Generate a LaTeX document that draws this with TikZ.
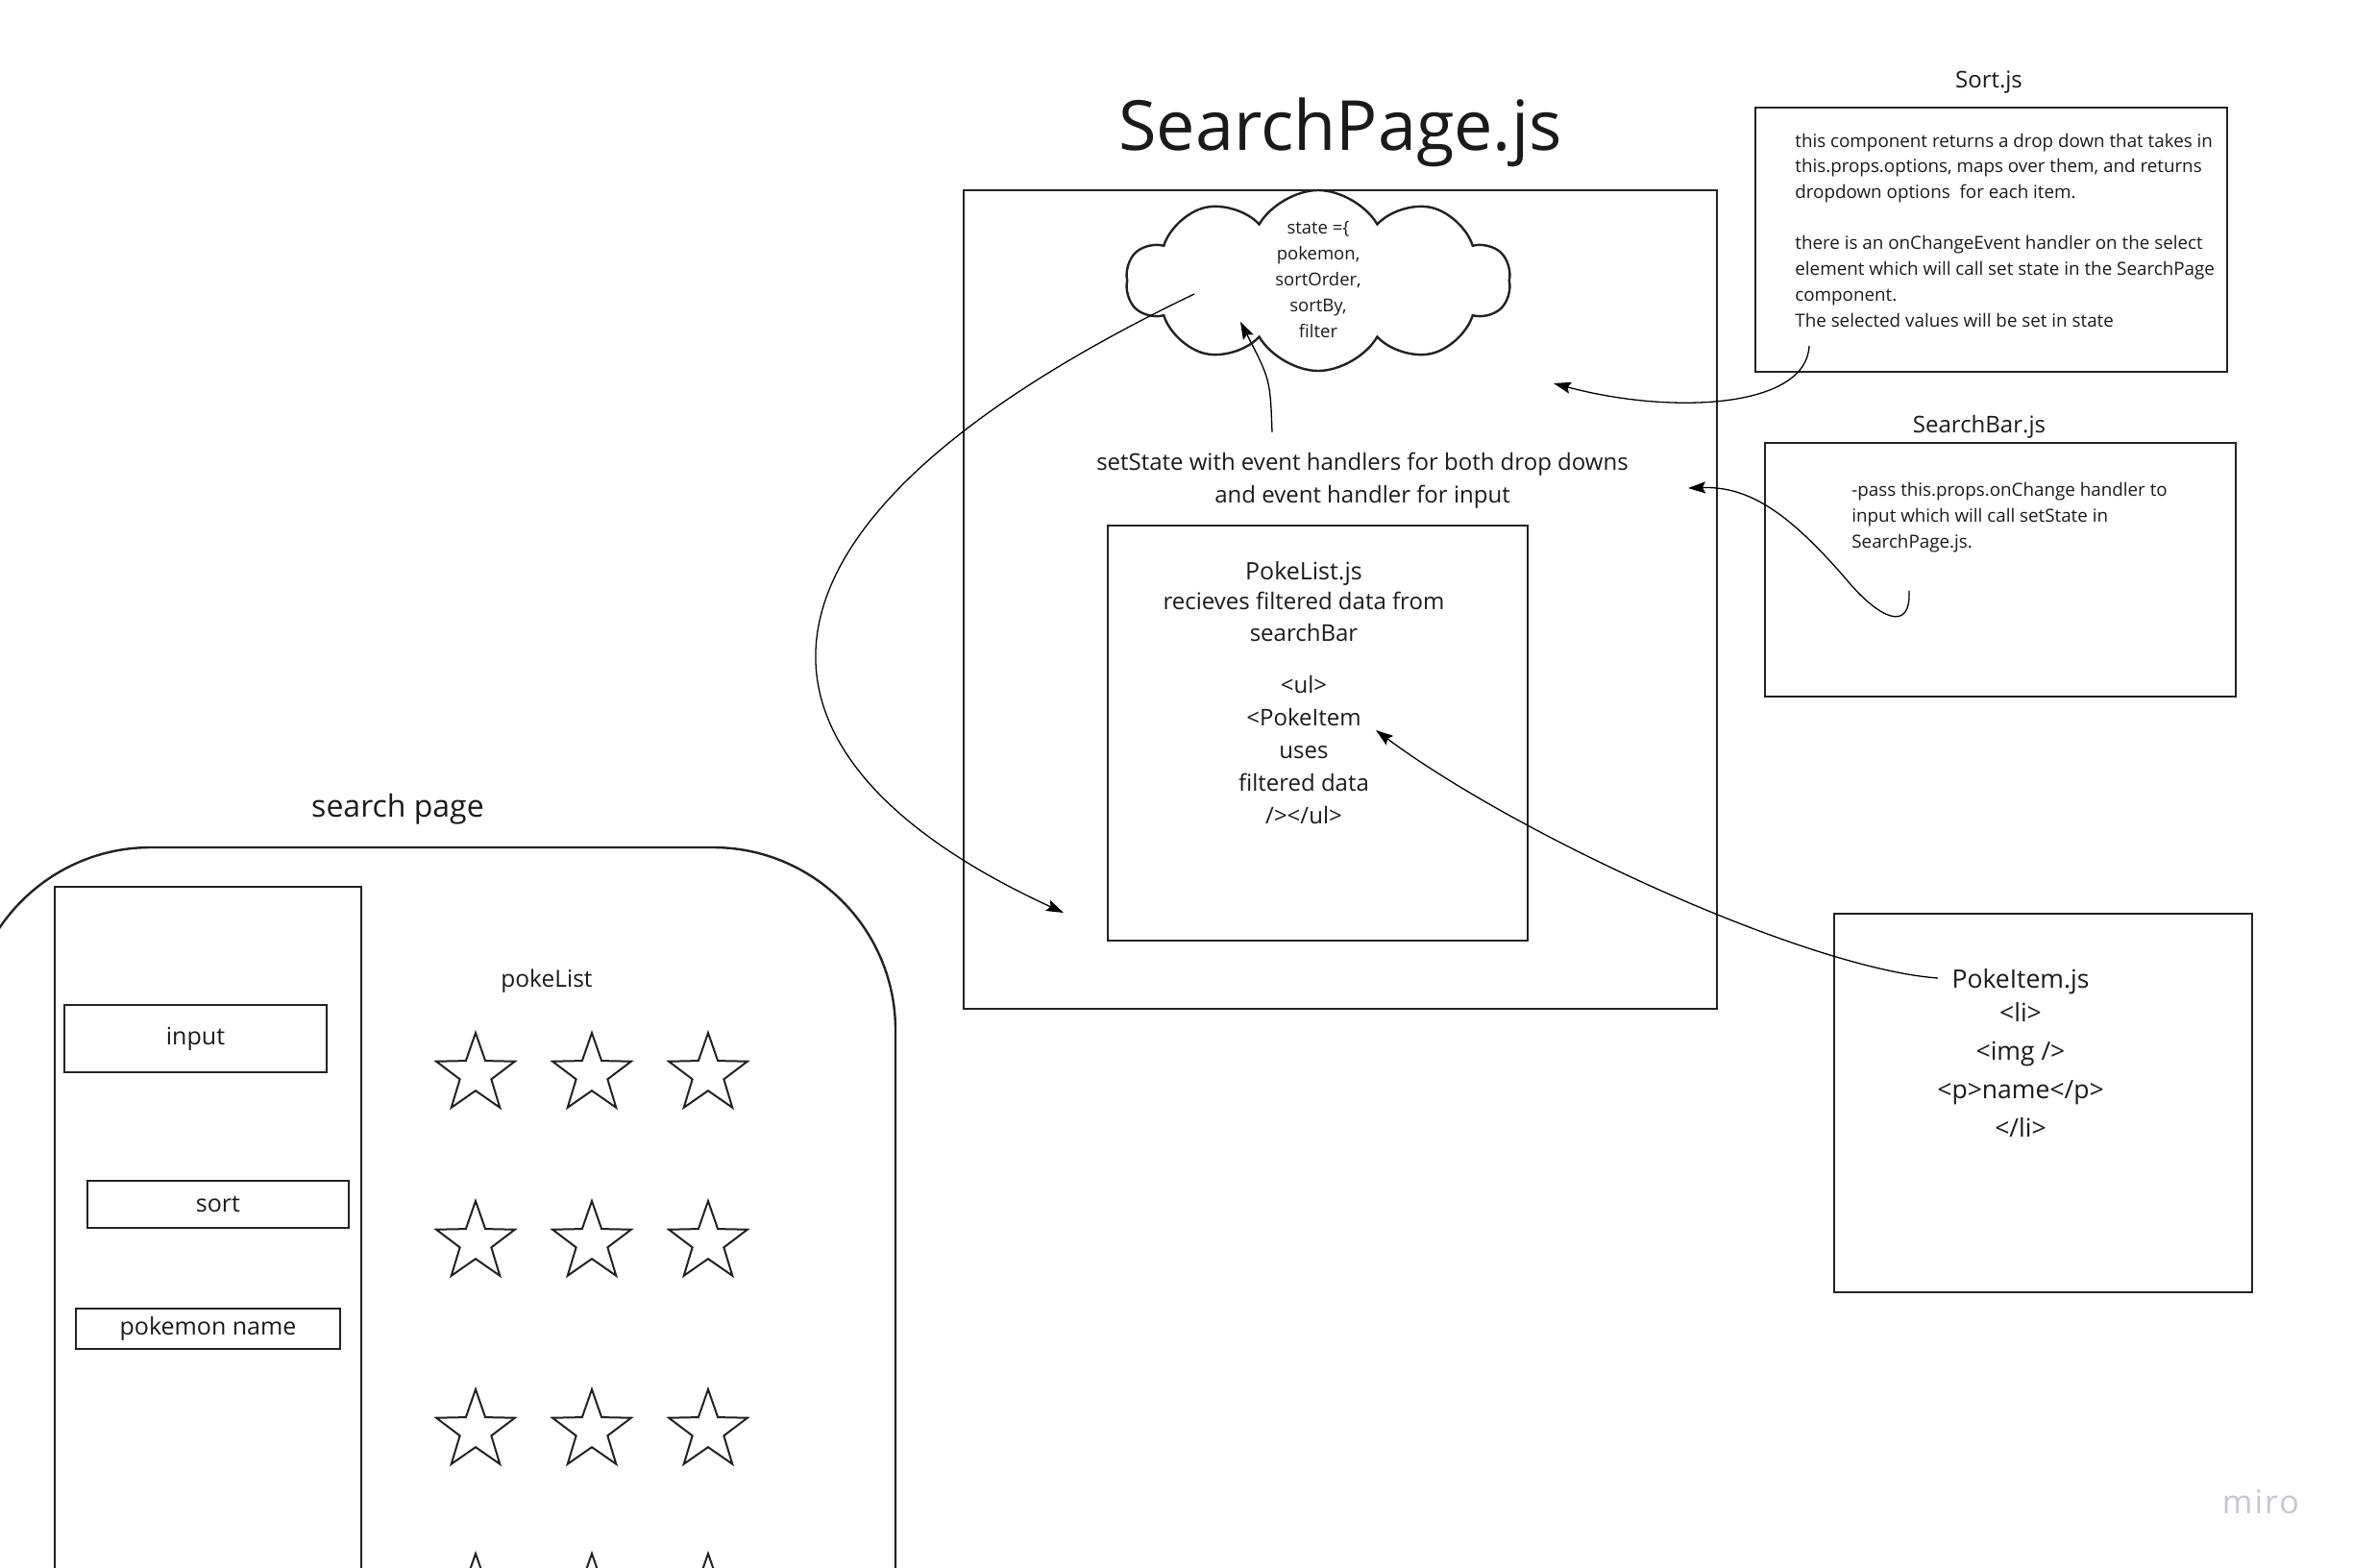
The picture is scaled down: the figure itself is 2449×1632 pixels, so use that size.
\documentclass[tikz,border=0pt]{standalone}
\usepackage{fontspec}
\setmainfont{Open Sans}
\usetikzlibrary{shapes.geometric,shapes.symbols,arrows.meta}
\definecolor{ink}{HTML}{222222}
\definecolor{txt}{HTML}{1A1A1A}
\definecolor{mirogray}{HTML}{C6C7D2}
\newcommand\fsz[2]{\fontsize{#1}{#2}\selectfont}
\begin{document}
\begin{tikzpicture}[x=0.5pt,y=-0.5pt,
  box/.style={draw=ink, line width=1.3pt, rectangle, inner sep=0pt},
  lbl/.style={text=txt, inner sep=0pt},
  conn/.style={draw=black, line width=0.65pt, -{Stealth[length=9pt,width=6pt,inset=1.5pt]}},
  pstar/.style={star, star points=5, star point ratio=2.5, draw=ink, line width=1pt, minimum size=43pt, inner sep=0pt}]
\useasboundingbox (0,0) rectangle (2449,1632);
\clip (0,0) rectangle (2449,1632);

% ---------- SearchPage.js ----------
\node[box] (main) at (1395,624) [minimum width=392pt, minimum height=426pt] {};
\node[lbl, font=\fsz{36}{40}, anchor=base] (title) at (1395,157) {SearchPage.js};
\node[cloud, cloud puffs=10, cloud puff arc=120, aspect=2.1, draw=ink, line width=1.2pt,
      minimum width=200pt, minimum height=94pt, inner sep=0pt] (state) at (1372,292) {};
% anchor=base of a multi-line node = baseline of its last line
\node[lbl, font=\fsz{9.25}{13.4}, align=center, anchor=base] (statetext) at (1372,351)
  {state =\{\\pokemon,\\sortOrder,\\sortBy,\\filter};
\node[lbl, font=\fsz{12}{17}, align=center, anchor=base] (setstate) at (1418,523)
  {setState with event handlers for both drop downs\\and event handler for input};

% ---------- PokeList.js ----------
\node[box] (pokelist) at (1371.5,763) [minimum width=218.5pt, minimum height=216pt] {};
\node[lbl, font=\fsz{12.5}{15}, anchor=base] (pltitle) at (1357,603) {PokeList.js};
\node[lbl, font=\fsz{12}{16.5}, align=center, anchor=base] (pldesc) at (1357,667)
  {recieves filtered data from\\searchBar};
\node[lbl, font=\fsz{12}{17}, align=center, anchor=base] (plcode) at (1357,857)
  {<ul>\\<PokeItem\\uses\\filtered data\\/></ul>};

% ---------- Sort.js ----------
\node[lbl, font=\fsz{12}{14}, anchor=base] (sortlbl) at (2070,92) {Sort.js};
\node[box] (sortbox) at (2072.5,249.5) [minimum width=245.5pt, minimum height=137.5pt] {};
\node[lbl, font=\fsz{9.4}{13.35}, align=left, anchor=base west] (sorttext) at (1868,340)
  {this component returns a drop down that takes in\\
   this.props.options, maps over them, and returns\\
   dropdown options\ \ for each item.\\[13.35pt]
   there is an onChangeEvent handler on the select\\
   element which will call set state in the SearchPage\\
   component.\\
   The selected values will be set in state};

% ---------- SearchBar.js ----------
\node[lbl, font=\fsz{12}{14}, anchor=base] (sblbl) at (2060,450) {SearchBar.js};
\node[box] (sbbox) at (2082,593) [minimum width=245pt, minimum height=132pt] {};
\node[lbl, font=\fsz{9.4}{13.35}, align=left, anchor=base west] (sbtext) at (1927,570)
  {-pass this.props.onChange handler to\\input which will call setState in\\SearchPage.js.};

% ---------- PokeItem.js ----------
\node[box] (pibox) at (2126.5,1148) [minimum width=217.5pt, minimum height=197pt] {};
\node[lbl, font=\fsz{13.25}{17}, anchor=base] (pititle) at (2103,1028) {PokeItem.js};
\node[lbl, font=\fsz{13.25}{20}, align=center, anchor=base] (picode) at (2103,1183)
  {<li>\\<img />\\<p>name</p>\\</li>};

% ---------- connectors ----------
\coordinate (bigFrom) at (1243,306);
\coordinate (bigTo) at (1107,950);
\draw[conn] (bigFrom) .. controls (743,546) and (748,785) .. (bigTo);

\coordinate (stateFrom) at (1324,450);
\coordinate (stateTo) at (1291,335);
\draw[conn] (stateFrom) .. controls (1322,395) .. (stateTo);

\coordinate (sortFrom) at (1883,360);
\coordinate (sortTo) at (1617,399);
\draw[conn] (sortFrom) .. controls (1880,425) and (1740,432) .. (sortTo);

\coordinate (sbFrom) at (1987,615);
\coordinate (sbTo) at (1757,508);
\draw[conn] (sbFrom) .. controls (1989,660) and (1955,642) .. (1925,607)
            .. controls (1862,533) and (1820,506) .. (sbTo);

\coordinate (piFrom) at (2017,1018);
\coordinate (piTo) at (1432,760);
\draw[conn] (piFrom) .. controls (1880,1008) and (1580,870) .. (piTo);

% ---------- search page mock ----------
\node[lbl, font=\fsz{16}{19}, anchor=base] (splbl) at (414,850) {search page};
\node[draw=ink, line width=1.2pt, rounded corners=95pt, inner sep=0pt,
      minimum width=482.5pt, minimum height=609pt] (page) at (449.5,1491) {};
\node[box, line width=1.2pt] (panel) at (216.5,1461.5) [minimum width=159.5pt, minimum height=538.5pt] {};
\node[box, line width=1.2pt, font=\fsz{12.5}{15}, text=txt] (inputbox) at (203.5,1081)
  [minimum width=136.5pt, minimum height=35pt] {input};
\node[box, line width=1.2pt, font=\fsz{12.5}{15}, text=txt] (sortfield) at (227,1253.5)
  [minimum width=136pt, minimum height=24.5pt] {sort};
\node[box, line width=1.2pt, font=\fsz{12.5}{15}, text=txt] (namefield) at (216.5,1383)
  [minimum width=137.5pt, minimum height=21pt] {pokemon name};
\node[lbl, font=\fsz{12.25}{15}, anchor=base] (pokelistlbl) at (569,1027) {pokeList};

\foreach \r/\yy in {1/1118,2/1293,3/1489,4/1660}{
  \foreach \c/\xx in {1/495,2/616,3/737}{
    \node[pstar] (star\r\c) at (\xx,\yy) {};
  }
}

% ---------- watermark ----------
\node[font=\fsz{17}{20}\addfontfeatures{LetterSpace=6}, text=mirogray, anchor=base, inner sep=0pt] (miro) at (2353,1575) {miro};
\end{tikzpicture}
\end{document}
